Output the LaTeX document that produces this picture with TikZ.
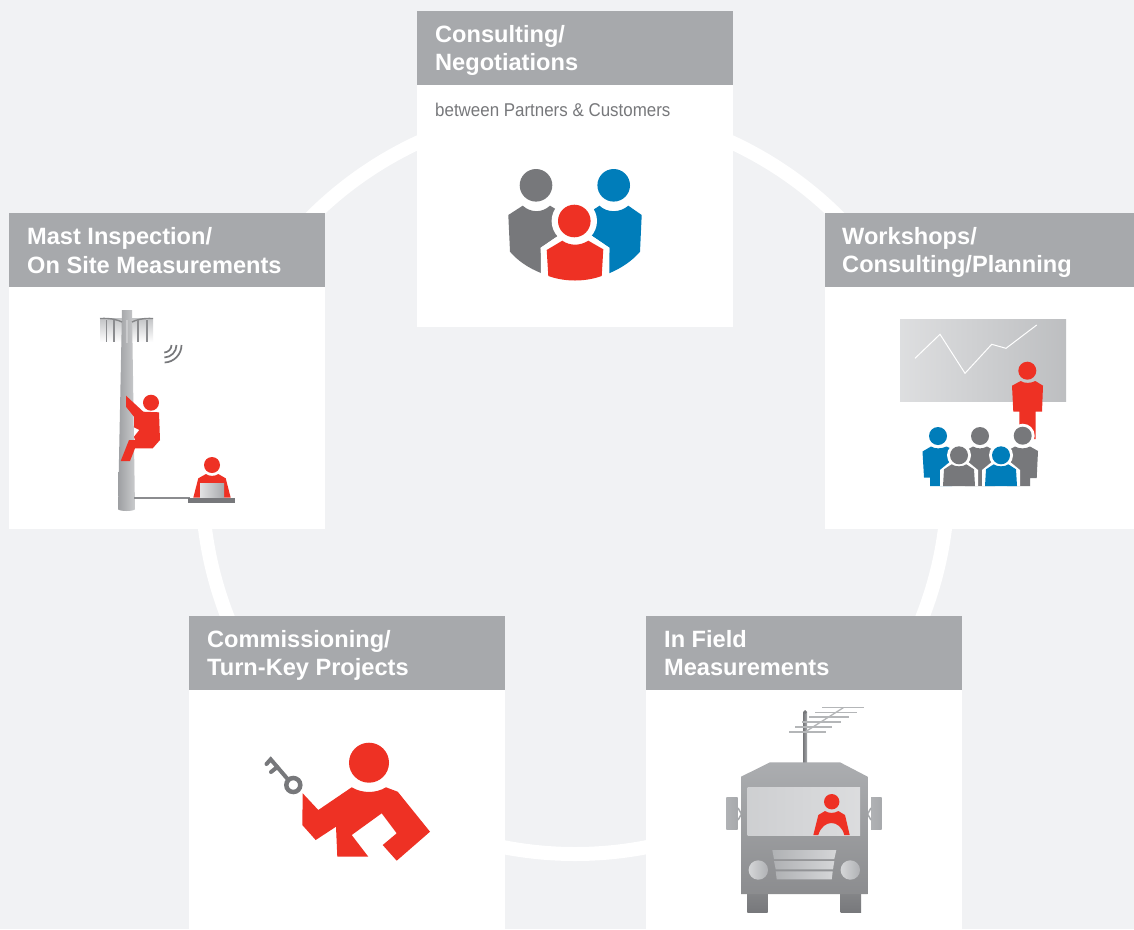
\documentclass[tikz,border=0pt]{standalone}
\usepackage{fontspec}
\setmainfont{Liberation Sans}
\definecolor{bgc}{HTML}{F1F2F4}
\definecolor{hdr}{HTML}{A7A9AC}
\definecolor{redc}{HTML}{EE3124}
\definecolor{bluec}{HTML}{007DBA}
\definecolor{greyc}{HTML}{77787B}
\definecolor{lightg}{HTML}{D5D6D8}
\tikzset{
 card/.style={fill=white,draw=none},
 head/.style={fill=hdr,draw=none},
 headtext/.style={text=white,font=\fontsize{23.6}{28.5}\selectfont\bfseries,align=left,anchor=west,inner sep=0pt},
 subtext/.style={text=greyc,font=\fontsize{18.5}{22}\selectfont,anchor=west,inner sep=0pt,xscale=.915},
}
\begin{document}
\begin{tikzpicture}[x=1pt,y=-1pt]
\useasboundingbox (0,0) rectangle (1134,929);
\fill[bgc] (0,0) rectangle (1134,929);
\draw[white,line width=14pt] (575,481) circle (373);
% cards
\fill[card] (417,11) rectangle (733,327);
\fill[head] (417,11) rectangle (733,85);
\node[headtext] (t1) at (435,50.5) {Consulting/\\Negotiations};
\node[subtext] (s1) at (435,110) {between Partners \& Customers};
\fill[card] (9,213) rectangle (325,529);
\fill[head] (9,213) rectangle (325,287);
\node[headtext] (t2) at (27,250.5) {Mast Inspection/\\On Site Measurements};
\fill[card] (825,213) rectangle (1134,529);
\fill[head] (825,213) rectangle (1134,287);
\node[headtext] (t3) at (842,252.5) {Workshops/\\Consulting/Planning};
\fill[card] (189,616) rectangle (505,929);
\fill[head] (189,616) rectangle (505,690);
\node[headtext] (t4) at (207,655.5) {Commissioning/\\Turn-Key Projects};
\fill[card] (646,616) rectangle (962,929);
\fill[head] (646,616) rectangle (962,690);
\node[headtext] (t5) at (664,653) {In Field\\Measurements};
% consulting icon
\fill[greyc] (536,185.3) circle (16.3);
\fill[bluec] (613.7,185.3) circle (16.3);
\fill[greyc] (508.3,215) -- (522.7,205.7) .. controls (531,213) and (542,213) .. (550,205.7) -- (556,209.3) -- (565,225) -- (558.3,235.7) -- (540.7,247.7) -- (541.7,273.3) .. controls (528,268) and (517,260) .. (510,251.7) -- cycle;
\fill[bluec] (641.7,215) -- (628.3,205.7) .. controls (620,213) and (607,213) .. (599.5,205.7) -- (594,209.3) -- (585,225) -- (591.7,235.7) -- (609.3,247.7) -- (609,273.3) .. controls (622,268) and (633,260) .. (640,251.7) -- cycle;
\fill[white] (574.3,221) circle (22.7);
\fill[white] (540.7,247.7) -- (558.3,235.7) -- (591.7,235.7) -- (609.3,247.7) -- (609.3,285) -- (541,285) -- cycle;
\fill[redc] (574.3,221) circle (16.3);
\fill[redc] (546.7,250) -- (562.3,240.7) .. controls (570,246) and (580,246) .. (588.3,240.7) -- (603.3,249.3) -- (601.7,276) .. controls (585,282) and (565,282) .. (548.3,276) -- cycle;
% mast icon
\shade[top color=hdr!70,bottom color=white] (100,318) rectangle (153,342);
\shade[left color=hdr!80!greyc,right color=hdr!60] (122,310) -- (132,310) -- (135,509) arc[start angle=0,end angle=180,x radius=8.5,y radius=2] -- cycle;
\draw[greyc!90,line width=1.4pt] (100,318.5) .. controls (112,318) and (118,320) .. (122,322);
\draw[greyc!90,line width=1.4pt] (153,318.5) .. controls (142,318) and (136,320) .. (132,322);
\foreach \xx in {106.5,114,138,147}{\draw[greyc!85,line width=1.4pt] (\xx,320) -- (\xx,342);}
\draw[hdr!60,line width=1.2pt] (127,320) -- (127,343);
\draw[greyc!85,line width=1.4pt] (134,498) -- (190,498);
\foreach \r in {7.5,12.5,17.5}{\draw[greyc,line width=1.7pt] (164,345)++(0:\r) arc[start angle=0,end angle=88,radius=\r];}
% climber
\fill[redc] (151,402.7) circle (8);
\fill[redc] (126,395.7) -- (143.3,411.7) -- (159,412.3) -- (160,440) -- (152.7,448.3) -- (135,448.3) -- (130,461) -- (120.7,461) -- (129,440) -- (135,440) -- (134,436.7) -- (139.3,430) -- (134,427.3) -- (134,416.7) -- (126,406.7) -- cycle;
% laptop person
\fill[redc] (212,465) circle (8);
\fill[redc] (193.3,497.7) -- (198.3,478.3) -- (206,474) .. controls (209,476.5) and (215,476.5) .. (218.3,474) -- (225.7,478.3) -- (230.7,497.7) -- cycle;
\shade[left color=lightg!70,right color=hdr] (200,483) rectangle (224,498);
\fill[greyc] (188,498) rectangle (235,503);
% presentation icon
\shade[shading angle=70,left color=lightg!80,right color=hdr!75] (900,319) rectangle (1066,401.7);
\draw[white,line width=1pt] (915,358.3) -- (940,334.3) -- (965,373.3) -- (991.7,344.3) -- (1006,348.3) -- (1036.7,325);
\fill[redc] (1027.3,370.7) circle (9);
\fill[redc] (1012,385.7) -- (1020.7,381) .. controls (1024,383.5) and (1031,383.5) .. (1035.3,381) -- (1043,385.7) -- (1042,411.7) -- (1035.7,411.7) -- (1035.7,439) -- (1019.3,439) -- (1019.3,411.7) -- (1013.3,411.7) -- cycle;
\fill[white] (1022.7,435.7) circle (12);
\fill[greyc] (1022.7,435.7) circle (9);
\fill[bluec] (938,436) circle (9);
\fill[bluec] (922.5,451.5) -- (931,446.5) .. controls (935,449) and (941,449) .. (946.5,446.5) -- (952,449) -- (952,486) -- (930,486) -- (930,477.5) -- (924,477.5) -- cycle;
\fill[greyc] (980,436) circle (9);
\fill[greyc] (965,451) -- (973,446.5) .. controls (977,449) and (983,449) .. (987,446.5) -- (995,451) -- (995,486) -- (965,486) -- cycle;
\fill[greyc] (1007,451) -- (1015,446.5) .. controls (1019,449) and (1026,449) .. (1030,446.5) -- (1038,451) -- (1036.7,478) -- (1030,478) -- (1030,486) -- (1007,486) -- cycle;
\foreach \xx/\cc in {959/greyc,1001/bluec}{
 \fill[white] (\xx,455.3) circle (12);
 \fill[white] (\xx-19,486) -- (\xx-19,470) -- (\xx-8,461) -- (\xx+8,461) -- (\xx+19,470) -- (\xx+19,486) -- cycle;
 \fill[\cc] (\xx,455.3) circle (9);
 \fill[\cc] (\xx-15,469.3) -- (\xx-7.3,464.3) .. controls (\xx-4,467) and (\xx+4,467) .. (\xx+7.3,464.3) -- (\xx+15,469.3) -- (\xx+16,486) -- (\xx-16,486) -- cycle;
}
% key icon
\fill[redc] (369,762.7) circle (20);
\fill[redc] (302.7,793.3) -- (318.3,810) -- (351.7,787.3) .. controls (362,793.5) and (376,793.5) .. (386,787.3) -- (397.7,791.7) -- (430,831.7) -- (396.7,860.7) -- (382.7,845) -- (396.7,833.3) -- (381.7,813.3) -- (351.7,835) -- (368.3,856.7) -- (337.3,856.7) -- (336,826.7) -- (315.7,840) -- (302.3,825) -- cycle;
\draw[greyc,line width=4.5pt] (293.3,785) circle (7);
\draw[greyc,line width=4pt,line cap=round] (288,779.5) -- (270.7,759.3) -- (266.5,764);
\draw[greyc,line width=4pt,line cap=round] (277.3,767) -- (271,772);
% bus icon
\shade[left color=greyc,right color=hdr] (803.2,712) rectangle (807,763);
\fill[greyc] (805.1,712) circle (1.9);
\foreach \xa/\xb/\yy in {789/826/732,795/832.3/727,802.3/840.7/722,809/849/717,815.3/856.7/712.3,822.3/864/707.7}{\draw[hdr!85,line width=1.3pt] (\xa,\yy) -- (\xb,\yy);}
\draw[hdr!85,line width=1.3pt] (805,732) -- (843.3,707.7);
\shade[top color=greyc!90,bottom color=greyc] (747.3,892) rectangle (767.7,912.7);
\shade[top color=greyc!90,bottom color=greyc] (840.7,892) rectangle (861,912.7);
\shade[left color=hdr!90,right color=hdr] (726.3,797.7) rectangle (737.7,829.3);
\shade[left color=hdr!90,right color=hdr] (871,797.7) rectangle (881.7,829.3);
\draw[hdr,line width=1.5pt] (738,808) -- (741.5,814) -- (738,820);
\draw[hdr,line width=1.5pt] (871,808) -- (867.5,814) -- (871,820);
\shade[top color=hdr!95!white,bottom color=greyc!85] (741,776.7) -- (770,762.3) -- (840,762.3) -- (867.7,776.7) -- (867.7,894) -- (741,894) -- cycle;
\shade[left color=lightg!85!hdr,right color=lightg!85] (747.7,787) rectangle (860,835);
\fill[redc] (831.7,801.7) circle (7.7);
\fill[redc] (813.3,835) -- (818.3,815) -- (825,811) .. controls (828,813.5) and (835,813.5) .. (838.3,811) -- (845,815) -- (849.7,835) -- (844.3,835) .. controls (840,819) and (823,819) .. (818.3,835) -- cycle;
\shade[left color=hdr!90,right color=lightg] (772.3,850) -- (836.3,850) -- (834.3,859) -- (774,859) -- cycle;
\shade[left color=hdr!90,right color=lightg] (774,861) -- (834.3,861) -- (833,869.3) -- (775.7,869.3) -- cycle;
\shade[left color=hdr!90,right color=lightg] (775.7,871.3) -- (832.7,871.3) -- (831.7,879.3) -- (776.7,879.3) -- cycle;
\shade[left color=lightg,right color=hdr!90] (758.3,870) circle (9.7);
\shade[left color=lightg,right color=hdr!90] (850.3,870) circle (9.7);
\end{tikzpicture}
\end{document}
